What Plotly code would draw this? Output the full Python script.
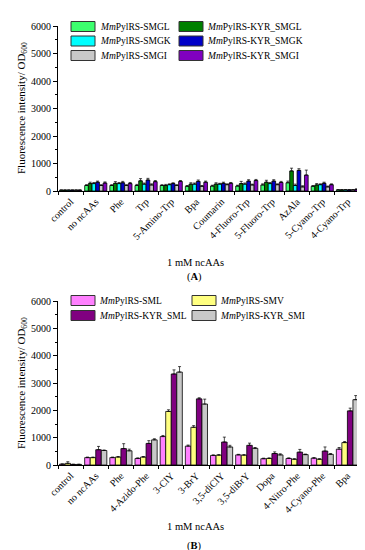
import plotly.graph_objects as go

# ---------------- Panel A data ----------------
cats_a = ["control", "no ncAAs", "Phe", "Trp", "5-Amino-Trp", "Bpa", "Coumarin",
          "4-Fluoro-Trp", "5-Fluoro-Trp", "AzAla", "5-Cyano-Trp", "4-Cyano-Trp"]
names_a = ["<i>Mm</i>PylRS-SMGL", "<i>Mm</i>PylRS-KYR_SMGL",
           "<i>Mm</i>PylRS-SMGK", "<i>Mm</i>PylRS-KYR_SMGK",
           "<i>Mm</i>PylRS-SMGI", "<i>Mm</i>PylRS-KYR_SMGI"]
smgl = [30, 200, 200, 200, 200, 170, 180, 180, 220, 300, 170, 40]
smgl_err = [10, 30, 30, 40, 30, 30, 30, 30, 40, 60, 30, 10]
kyr_smgl = [30, 270, 280, 370, 200, 250, 250, 270, 320, 730, 220, 40]
kyr_smgl_err = [10, 50, 60, 80, 40, 50, 50, 80, 70, 100, 50, 10]
smgk = [30, 270, 270, 250, 230, 250, 250, 250, 270, 200, 230, 40]
smgk_err = [10, 40, 40, 40, 30, 40, 30, 40, 40, 50, 30, 10]
kyr_smgk = [30, 320, 300, 400, 270, 350, 280, 360, 360, 750, 280, 40]
kyr_smgk_err = [10, 40, 50, 60, 30, 50, 40, 50, 50, 60, 40, 10]
smgi = [30, 200, 200, 220, 200, 170, 230, 220, 230, 150, 150, 40]
smgi_err = [10, 30, 30, 40, 30, 30, 30, 30, 30, 40, 30, 10]
kyr_smgi = [30, 290, 270, 340, 350, 320, 280, 380, 310, 580, 230, 60]
kyr_smgi_err = [10, 40, 40, 40, 30, 40, 30, 40, 40, 180, 30, 15]
values_a = [smgl, kyr_smgl, smgk, kyr_smgk, smgi, kyr_smgi]
errors_a = [smgl_err, kyr_smgl_err, smgk_err, kyr_smgk_err, smgi_err, kyr_smgi_err]
colors_a = ["#3cff6e", "#008000", "#00ffff", "#0000c8", "#c8c8c8", "#8000c0"]

# ---------------- Panel B data ----------------
cats_b = ["control", "no ncAAs", "Phe", "4-Azido-Phe", "3-ClY", "3-BrY", "3,5-diClY",
          "3,5-diBrY", "Dopa", "4-Nitro-Phe", "4-Cyano-Phe", "Bpa"]
names_b = ["<i>Mm</i>PylRS-SML", "<i>Mm</i>PylRS-SMV",
           "<i>Mm</i>PylRS-KYR_SML", "<i>Mm</i>PylRS-KYR_SMI"]
sml = [30, 270, 270, 240, 1040, 690, 350, 370, 230, 240, 250, 580]
sml_err = [10, 20, 20, 20, 40, 40, 20, 20, 20, 20, 20, 60]
smv = [60, 270, 290, 290, 1960, 1380, 360, 360, 240, 210, 210, 820]
smv_err = [60, 20, 20, 20, 60, 60, 20, 20, 20, 20, 20, 40]
kyr_sml = [20, 560, 600, 790, 3330, 2420, 840, 720, 420, 470, 510, 1980]
kyr_sml_err = [10, 120, 180, 100, 150, 40, 180, 80, 60, 100, 150, 100]
kyr_smi = [20, 530, 520, 920, 3400, 2230, 660, 610, 370, 380, 390, 2390]
kyr_smi_err = [10, 20, 60, 40, 200, 180, 60, 30, 40, 20, 30, 150]
values_b = [sml, smv, kyr_sml, kyr_smi]
errors_b = [sml_err, smv_err, kyr_sml_err, kyr_smi_err]
colors_b = ["#ff80ff", "#ffff80", "#800080", "#c8c8c8"]

y_ticks = [0, 1000, 2000, 3000, 4000, 5000, 6000]

W, H = 365, 550
FONT = "Liberation Serif"

def px(x):
    return x / W

def py(y):
    return 1 - y / H

fig = go.Figure()

for name, vals, errs, col in zip(names_a, values_a, errors_a, colors_a):
    fig.add_trace(go.Bar(
        x=cats_a, y=vals, name=name, marker=dict(color=col, line=dict(color="black", width=0.8)),
        error_y=dict(type="data", array=errs, arrayminus=[0] * len(errs), symmetric=False,
                     color="black", thickness=0.7, width=1.5),
        xaxis="x", yaxis="y", showlegend=False))

for name, vals, errs, col in zip(names_b, values_b, errors_b, colors_b):
    fig.add_trace(go.Bar(
        x=cats_b, y=vals, name=name, marker=dict(color=col, line=dict(color="black", width=0.8)),
        error_y=dict(type="data", array=errs, arrayminus=[0] * len(errs), symmetric=False,
                     color="black", thickness=0.7, width=1.5),
        xaxis="x2", yaxis="y2", showlegend=False))

xax = dict(showline=True, linecolor="black", linewidth=1, ticks="outside", ticklen=3,
           tickson="boundaries", tickcolor="black", tickangle=-45, showgrid=False,
           tickfont=dict(family=FONT, size=10, color="black"), zeroline=False, fixedrange=True,
           automargin=False)
yax = dict(showline=True, linecolor="black", linewidth=1, ticks="outside", ticklen=4,
           tickcolor="black", range=[0, 6000], tickvals=y_ticks, showgrid=False, zeroline=False,
           tickfont=dict(family=FONT, size=10, color="black"), automargin=False,
           minor=dict(ticks="outside", dtick=500, ticklen=2, tickcolor="black"))

fig.update_layout(
    width=W, height=H,
    margin=dict(l=0, r=0, t=0, b=0, autoexpand=False),
    paper_bgcolor="white", plot_bgcolor="white",
    barmode="group", bargap=0.12, bargroupgap=0,
    font=dict(family=FONT, color="black"),
    xaxis=dict(domain=[px(50), px(352)], anchor="y", **xax),
    yaxis=dict(domain=[py(183), py(18)], anchor="x", **yax),
    xaxis2=dict(domain=[px(50), px(352)], anchor="y2", **xax),
    yaxis2=dict(domain=[py(457), py(293)], anchor="x2", **yax),
)

annotations = []
shapes = []

# y titles
for yc in [100, 375]:
    annotations.append(dict(x=px(14), y=py(yc), xref="paper", yref="paper",
                            xanchor="center", yanchor="middle",
                            text="Fluorescence intensity/ OD<sub>600</sub>", textangle=-90,
                            showarrow=False, font=dict(family=FONT, size=11, color="black")))
# x titles & panel labels
for yt, lab, yl in [(254, "(<b>A</b>)", 269), (518, "(<b>B</b>)", 538)]:
    annotations.append(dict(x=px(187), y=py(yt), xref="paper", yref="paper", text="1 mM ncAAs",
                            xanchor="center", yanchor="middle",
                            showarrow=False, font=dict(family=FONT, size=10.5, color="black")))
    annotations.append(dict(x=px(186), y=py(yl), xref="paper", yref="paper", text=lab,
                            xanchor="center", yanchor="middle",
                            showarrow=False, font=dict(family=FONT, size=10.5, color="black")))

# legends (2 columns)
def legend(names, colors, rows, cols):
    for i, (nm, col) in enumerate(zip(names, colors)):
        r, c = i // 2, i % 2
        yc = rows[r]
        x0, x1, xt = cols[c]
        shapes.append(dict(type="rect", xref="paper", yref="paper",
                           x0=px(x0), x1=px(x1), y0=py(yc + 5), y1=py(yc - 5),
                           fillcolor=col, line=dict(color="#333333", width=1)))
        annotations.append(dict(x=px(xt), y=py(yc), xref="paper", yref="paper", text=nm,
                                xanchor="left", yanchor="middle", showarrow=False,
                                font=dict(family=FONT, size=9.5, color="black")))

legend(names_a, colors_a, [18.5, 33, 47.5], [(63, 87, 90), (171, 195, 197)])
legend(names_b, colors_b, [292.5, 307.5], [(63, 87, 89), (184, 208, 210)])

fig.update_layout(annotations=annotations, shapes=shapes)

fig.write_html("out.html")
